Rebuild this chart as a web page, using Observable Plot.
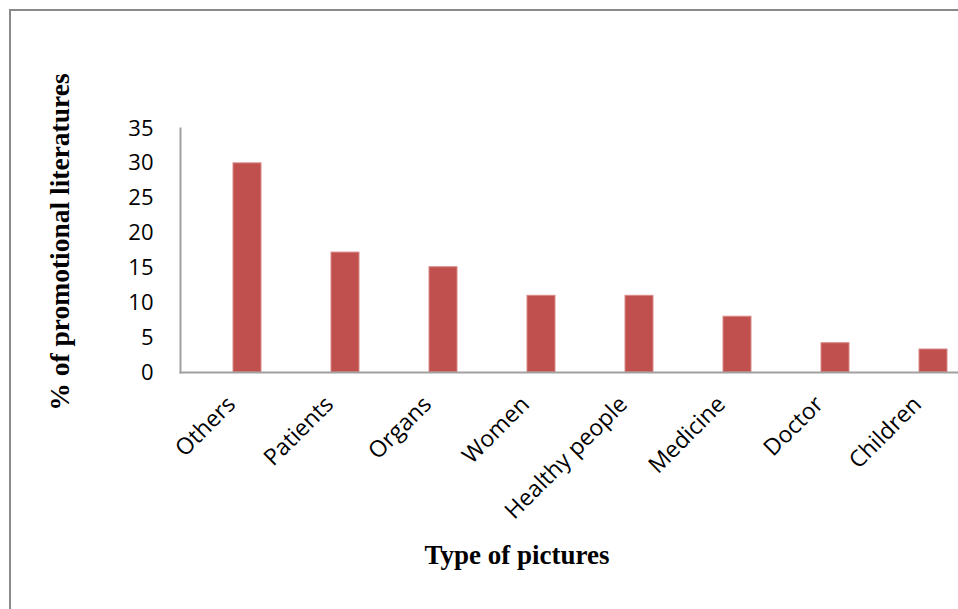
<!DOCTYPE html>
<html>
<head>
<meta charset="utf-8">
<script src="https://cdn.jsdelivr.net/npm/d3@7"></script>
<script src="https://cdn.jsdelivr.net/npm/@observablehq/plot@0.6"></script>
<style>
  html, body { margin: 0; padding: 0; background: #fff; overflow: hidden; }
  #wrap { position: relative; width: 958px; height: 609px; }
  #border { position: absolute; left: 9px; top: 9px; width: 1000px; height: 700px;
            border-left: 2px solid #8a8a8a; border-top: 2px solid #8a8a8a; }
  #chart { position: absolute; left: 0; top: 0; }
  .ytitle { position: absolute; left: 60px; top: 242px; transform: translate(-50%, -50%) rotate(-90deg);
            font-family: "Liberation Serif", "Times New Roman", serif; font-weight: bold; font-size: 27.5px;
            white-space: nowrap; color: #000; }
  .xtitle { position: absolute; left: 517px; top: 555px; transform: translate(-50%, -50%);
            font-family: "Liberation Serif", "Times New Roman", serif; font-weight: bold; font-size: 27px;
            white-space: nowrap; color: #000; }
</style>
</head>
<body>
<div id="wrap">
  <div id="border"></div>
  <div id="chart"></div>
  <div class="ytitle">% of promotional literatures</div>
  <div class="xtitle">Type of pictures</div>
</div>
<script>
const categories = ["Others", "Patients", "Organs", "Women", "Healthy people", "Medicine", "Doctor", "Children"];
const values = [30, 17.2, 15.1, 11, 11, 8, 4.2, 3.3];
const yTicks = [0, 5, 10, 15, 20, 25, 30, 35];

const data = categories.map((c, i) => ({category: c, value: values[i]}));

const chart = Plot.plot({
  width: 958,
  height: 609,
  marginTop: 128,
  marginBottom: 237,
  marginLeft: 180,
  marginRight: 0,
  style: {fontFamily: "'Open Sans', sans-serif", fontSize: "22px", color: "#000", background: "transparent", overflow: "visible"},
  x: {type: "band", domain: categories, range: [194.5, 985.7], paddingInner: 0.717, paddingOuter: 0.3585},
  y: {domain: [0, 35]},
  marks: [
    Plot.barY(data, {x: "category", y: "value", fill: "#c0504d", stroke: "#d98a88", strokeWidth: 1}),
    Plot.frame({anchor: "left", stroke: "#a0a0a0", strokeWidth: 2}),
    Plot.frame({anchor: "bottom", stroke: "#a0a0a0", strokeWidth: 2}),
    Plot.axisY({ticks: yTicks, tickSize: 0, tickPadding: 27, label: null, fontSize: 22}),
    Plot.axisX({tickSize: 0, tickRotate: -45, tickPadding: 28, dx: -16, label: null, fontSize: 23})
  ]
});
document.getElementById("chart").appendChild(chart);
</script>
</body>
</html>
